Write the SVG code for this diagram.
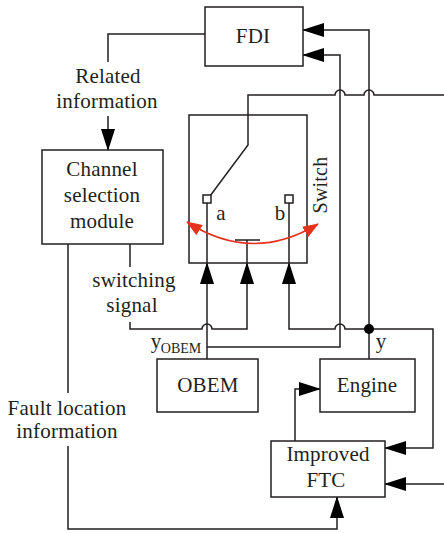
<svg xmlns="http://www.w3.org/2000/svg" width="444" height="533" viewBox="0 0 444 533">
<style>
.box{fill:#fff;stroke:#231f20;stroke-width:1.5}
.ln{fill:none;stroke:#231f20;stroke-width:1.5}
.ar{fill:none;stroke:#231f20;stroke-width:1.5;marker-end:url(#ah)}
.red{fill:none;stroke:#e5321d;stroke-width:1.5;marker-start:url(#rh);marker-end:url(#rh)}
text{font-family:"Liberation Serif","Times New Roman",serif;font-size:21px;letter-spacing:0.2px;fill:#231f20;text-anchor:middle}
</style>
<defs>
<marker id="ah" viewBox="0 0 22 14" refX="21" refY="7" markerWidth="22" markerHeight="14" markerUnits="userSpaceOnUse" orient="auto"><path d="M0,0 L22,7 L0,14 z" fill="#000"/></marker>
<marker id="rh" viewBox="0 0 16 12" refX="15" refY="6" markerWidth="16" markerHeight="12" markerUnits="userSpaceOnUse" orient="auto-start-reverse"><path d="M0,0 L16,6 L0,12 z" fill="#e5321d"/></marker>
</defs>
<g id="connectors">
<path class="ln" d="M205,34 H108 V62"/>
<path class="ar" d="M108,116 V150"/>
<path class="ar" d="M369,359 V30 H303"/>
<path class="ar" d="M207,347 H340 V55 H303"/>
<path class="ln" d="M444,95 H374 A5,5 0 0 0 364,95 H345 A5,5 0 0 0 335,95 H248 V145 L210,196"/>
<path class="ln" d="M130,244 V267"/>
<path class="ar" d="M130,322 V329 H202 A5,5 0 0 1 212,329 H247 V263"/>
<path class="ar" d="M369,329 H345 A5,5 0 0 0 335,329 H289 V263"/>
<path class="ar" d="M369,329 H433 V448 H385"/>
<path class="ar" d="M207,359 V263"/>
<path class="ar" d="M295,441 V389 H320"/>
<path class="ar" d="M444,484 H385"/>
<path class="ln" d="M68,244 V393"/>
<path class="ar" d="M68,446 V529 H337 V497"/>
<circle cx="369" cy="329" r="5" fill="#000"/>
</g>
<g id="fdi">
<rect class="box" x="205" y="7" width="98" height="59"/>
<text x="253" y="43">FDI</text>
</g>
<g id="related-label">
<text x="108" y="83">Related</text>
<text x="107" y="108">information</text>
</g>
<g id="channel">
<rect class="box" x="42" y="150" width="121" height="94"/>
<text x="102" y="176">Channel</text>
<text x="102" y="202">selection</text>
<text x="102" y="228">module</text>
</g>
<g id="switch">
<rect class="box" x="189" y="115" width="118" height="148"/>
<path class="ln" d="M248,115 V145 L210,196"/>
<path class="ln" d="M207,203 V263 M289,203 V263 M235,240 H260 M247,240 V263"/>
<rect class="box" x="203" y="195" width="8" height="8"/>
<rect class="box" x="285" y="195" width="8" height="8"/>
<text x="221" y="220">a</text>
<text x="280" y="220">b</text>
<path class="red" d="M187,222 Q252,264 318,224"/>
<text transform="translate(327,185) rotate(-90)" style="font-size:20px">Switch</text>
</g>
<g id="labels">
<text x="134" y="287">switching</text>
<text x="132" y="312">signal</text>
<text x="67" y="415">Fault location</text>
<text x="67" y="438">information</text>
<text x="381" y="348">y</text>
<text x="156" y="348">y</text>
<text x="181" y="353" style="font-size:14px;letter-spacing:0">OBEM</text>
</g>
<g id="obem">
<rect class="box" x="157" y="359" width="101" height="53"/>
<text x="208" y="392">OBEM</text>
</g>
<g id="engine">
<rect class="box" x="320" y="359" width="95" height="53"/>
<text x="367" y="392">Engine</text>
</g>
<g id="ftc">
<rect class="box" x="271" y="441" width="114" height="56"/>
<text x="328" y="461">Improved</text>
<text x="326" y="487">FTC</text>
</g>
</svg>
